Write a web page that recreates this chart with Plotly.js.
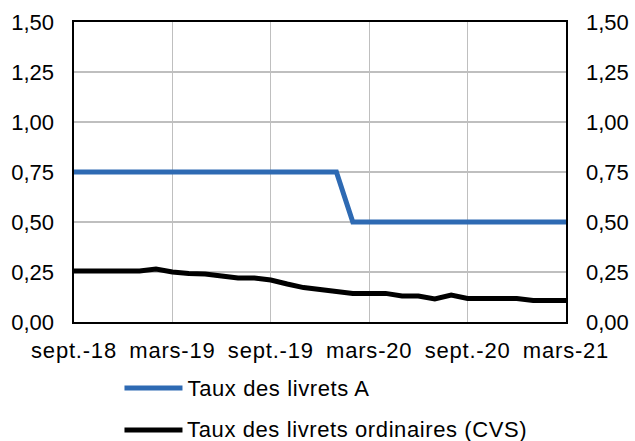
<!DOCTYPE html>
<html>
<head>
<meta charset="utf-8">
<script src="https://cdn.plot.ly/plotly-3.0.1.min.js"></script>
<style>
html,body{margin:0;padding:0;background:#fff;}
#chart{width:635px;height:441px;}
#chart .xtick text{letter-spacing:0.8px;}
#chart .annotation-text{letter-spacing:0.6px;}
</style>
</head>
<body>
<div id="chart"></div>
<script>
// Months (sept. 2018 to mars 2021)
const months = ["sept.-18","oct.-18","nov.-18","déc.-18","janv.-19","févr.-19","mars-19","avr.-19","mai-19","juin-19","juil.-19","août-19",
  "sept.-19","oct.-19","nov.-19","déc.-19","janv.-20","févr.-20","mars-20","avr.-20","mai-20","juin-20","juil.-20","août-20",
  "sept.-20","oct.-20","nov.-20","déc.-20","janv.-21","févr.-21","mars-21"];
const tauxLivretA = [0.75,0.75,0.75,0.75,0.75,0.75,0.75,0.75,0.75,0.75,0.75,0.75,
  0.75,0.75,0.75,0.75,0.75,0.50,0.50,0.50,0.50,0.50,0.50,0.50,
  0.50,0.50,0.50,0.50,0.50,0.50,0.50];
const tauxLivretsOrdinaires = [0.255,0.255,0.255,0.255,0.255,0.265,0.25,0.243,0.24,0.23,0.22,0.22,
  0.21,0.19,0.172,0.163,0.152,0.143,0.143,0.143,0.13,0.13,0.115,0.135,
  0.118,0.118,0.118,0.118,0.107,0.107,0.107];
const tickMonths = ["sept.-18","mars-19","sept.-19","mars-20","sept.-20","mars-21"];
const yTicks = [0,0.25,0.5,0.75,1.0,1.25,1.5];
const seriesNames = ["Taux des livrets A","Taux des livrets ordinaires (CVS)"];
const seriesColors = ["#2E6AB3","#000000"];

const FONT = "Liberation Sans, Arial, sans-serif";
const FS = 22;
const LEG_SPACING = 0.6; // matches CSS letter-spacing of legend texts

const traces = [
  {x: months, y: tauxLivretA, type:"scatter", mode:"lines", name: seriesNames[0],
   line:{color: seriesColors[0], width:5}, showlegend:false, hoverinfo:"skip"},
  {x: months, y: tauxLivretsOrdinaires, type:"scatter", mode:"lines", name: seriesNames[1],
   line:{color: seriesColors[1], width:5}, showlegend:false, hoverinfo:"skip"},
  {x: months, y: tauxLivretsOrdinaires, type:"scatter", mode:"lines", yaxis:"y2",
   line:{color:"rgba(0,0,0,0)", width:0}, showlegend:false, hoverinfo:"skip"}
];

// legend built as shapes + annotations (longer line samples as in the reference)
const legY = [-0.22, -0.36];
const shapes = [];
const annotations = [];
seriesNames.forEach((n,i)=>{
  shapes.push({type:"line", xref:"paper", yref:"paper", x0:0.1026, x1:0.2205, y0:legY[i], y1:legY[i],
    line:{color: seriesColors[i], width:5}});
  annotations.push({xref:"paper", yref:"paper", x:0.2267, y:legY[i], xanchor:"left", yanchor:"middle",
    xshift: n.length*LEG_SPACING/2,
    text:n, showarrow:false, font:{family:FONT, size:FS, color:"#000"}});
});

const layout = {
  width:635, height:441,
  margin:{l:74, r:69, t:22, b:119},
  paper_bgcolor:"#fff", plot_bgcolor:"#fff",
  separators:", ",
  font:{family:FONT, size:FS, color:"#000"},
  showlegend:false,
  xaxis:{type:"category", categoryorder:"array", categoryarray: months,
    range:[0, months.length-1], tickmode:"array", tickvals: tickMonths, ticktext: tickMonths,
    showgrid:true, gridcolor:"#BFBFBF", gridwidth:1.3, zeroline:false,
    showline:true, linecolor:"#000", linewidth:1.6, mirror:true, ticks:"", ticklabelstandoff:8,
    tickfont:{family:FONT, size:FS}},
  yaxis:{range:[0,1.5], tickmode:"array", tickvals:yTicks, tickformat:".2f",
    showgrid:true, gridcolor:"#BFBFBF", gridwidth:1.3, zeroline:false,
    showline:true, linecolor:"#000", linewidth:1.6, ticks:"", ticklabelstandoff:14,
    tickfont:{family:FONT, size:FS}},
  yaxis2:{range:[0,1.5], overlaying:"y", side:"right", tickmode:"array", tickvals:yTicks, tickformat:".2f",
    showgrid:false, zeroline:false, showline:true, linecolor:"#000", linewidth:1.6, ticks:"", ticklabelstandoff:14,
    tickfont:{family:FONT, size:FS}},
  shapes: shapes,
  annotations: annotations
};

Plotly.newPlot("chart", traces, layout, {displayModeBar:false, staticPlot:true});
</script>
</body>
</html>
